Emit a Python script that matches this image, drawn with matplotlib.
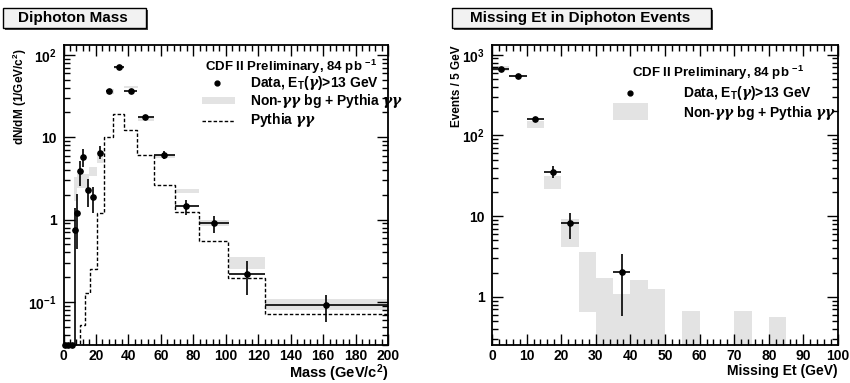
import numpy as np
import matplotlib.pyplot as plt
from matplotlib.patches import Rectangle
from matplotlib.ticker import FixedLocator, MultipleLocator, NullFormatter

plt.rcParams['font.family'] = ['Liberation Sans', 'DejaVu Sans']
plt.rcParams['font.weight'] = 'bold'
plt.rcParams['axes.labelweight'] = 'bold'
plt.rcParams['mathtext.fontset'] = 'custom'
plt.rcParams['mathtext.rm'] = 'Liberation Sans:bold'
plt.rcParams['mathtext.bf'] = 'Liberation Sans:bold'
plt.rcParams['mathtext.it'] = 'DejaVu Serif:italic'
plt.rcParams['mathtext.default'] = 'rm'

BAND = '#e3e3e3'

# ---- diphoton mass ----
mass_x = [6.8, 8.2, 10.3, 12.3, 15.2, 18.3, 22.6, 27.8, 34.0, 41.4, 50.4, 61.7, 75.7, 92.6, 112.8, 162.0]
mass_xlo = [6.5, 7.5, 9.5, 11.5, 14.0, 17.3, 21.5, 25.9, 30.9, 37.0, 45.7, 55.6, 68.5, 83.3, 101.7, 124.0]
mass_xhi = [7.1, 8.9, 11.1, 13.1, 16.4, 19.3, 23.7, 30.0, 37.0, 45.5, 56.0, 68.5, 83.3, 101.7, 124.0, 200.0]
mass_y = [0.74, 1.19, 3.93, 5.7, 2.31, 1.86, 6.5, 36.6, 71.6, 36.6, 17.4, 6.1, 1.45, 0.91, 0.217, 0.091]
mass_ylo = [0.01, 0.44, 2.58, 4.3, 1.41, 1.19, 5.5, 34.5, 68.0, 34.5, 16.4, 5.5, 1.14, 0.69, 0.122, 0.057]
mass_yhi = [1.4, 2.07, 5.2, 7.2, 3.1, 2.5, 7.9, 38.8, 75.0, 38.8, 18.4, 6.8, 1.73, 1.12, 0.318, 0.123]

# empty bins below the first filled bin
mass_zero_x = [1.0, 3.0, 5.0]
mass_zero_w = [1.0, 1.0, 1.5]

# non-gamma-gamma background + Pythia band (bin edges, low, high)
band_m_edges = [6.5, 8.5, 16.0, 20.5, 24.5, 25.9, 30.9, 37.0, 45.7, 55.6, 68.5, 83.3, 101.7, 124.0, 200.0]
band_m_lo = [1.7, 2.44, 3.4, 4.9, np.nan, 34.0, 68.0, 39.5, 15.7, 5.6, 2.08, 0.83, 0.25, 0.079]
band_m_hi = [3.3, 3.6, 4.4, 6.1, np.nan, 39.0, 73.0, 42.0, 17.4, 6.1, 2.36, 0.99, 0.35, 0.11]

# Pythia gamma-gamma alone
pythia_edges = [8.0, 10.0, 13.5, 16.5, 20.5, 25.0, 30.5, 37.0, 45.5, 55.5, 68.5, 83.5, 101.5, 124.0, 200.0]
pythia_vals = [0.02, 0.052, 0.13, 0.25, 1.2, 10.1, 19.0, 12.3, 6.1, 2.65, 1.22, 0.545, 0.196, 0.072]

# ---- missing Et ----
met_x = [2.5, 7.5, 12.5, 17.5, 22.5, 37.5]
met_xerr = [2.5, 2.5, 2.5, 2.5, 2.5, 2.5]
met_y = [660, 546, 158, 35.4, 8.2, 2.03]
met_ylo = [630, 525, 148, 29.7, 5.2, 0.585]
met_yhi = [690, 568, 168, 41.6, 10.9, 3.42]

band_e_edges = [0, 5, 10, 15, 20, 25, 30, 35, 40, 45, 50, 55, 60, 65, 70, 75, 80, 85]
band_e_lo = [620, 535, 124, 21.7, 4.1, 0.64, 0.1, 0.1, 0.1, 0.1, np.nan, 0.1, np.nan, np.nan, 0.1, np.nan, 0.1]
band_e_hi = [720, 555, 150, 31.8, 9.3, 3.55, 1.72, 1.09, 1.63, 1.26, np.nan, 0.67, np.nan, np.nan, 0.67, np.nan, 0.57]

GG = '$\\mathit{\\gamma\\gamma}$'
DATA_LABEL = 'Data, E$_{T}$($\\mathit{\\gamma}$)>13 GeV'
BG_LABEL = 'Non-' + GG + ' bg + Pythia ' + GG
HEADER = 'CDF II Preliminary, 84 pb $^{-1}$'


def draw_band(ax, edges, lo, hi):
    for i in range(len(lo)):
        if np.isnan(lo[i]):
            continue
        ax.fill_between([edges[i], edges[i + 1]], lo[i], hi[i], color=BAND, lw=0, zorder=1)


def draw_data(ax, x, xl, xh, y, yl, yh):
    x = np.array(x); y = np.array(y)
    xerr = [x - np.array(xl), np.array(xh) - x]
    yerr = [y - np.array(yl), np.array(yh) - y]
    ax.errorbar(x, y, xerr=xerr, yerr=yerr, fmt='o', color='black', ms=3.8,
                elinewidth=1.2, capsize=0, zorder=5)


def style_axes(ax, xmax, xmajor, xminor, ymin, ymax, yticks, ylabels):
    ax.set_yscale('log')
    ax.set_xlim(0, xmax)
    ax.set_ylim(ymin, ymax)
    ax.xaxis.set_major_locator(MultipleLocator(xmajor))
    ax.xaxis.set_minor_locator(MultipleLocator(xminor))
    ax.yaxis.set_major_locator(FixedLocator(yticks))
    ax.set_yticklabels(ylabels)
    minors = [m * 10.0 ** e for e in range(-3, 4) for m in range(2, 10)]
    ax.yaxis.set_minor_locator(FixedLocator(minors))
    ax.yaxis.set_minor_formatter(NullFormatter())
    ax.tick_params(which='both', direction='in', top=True, right=True, labelsize=10, width=1)
    ax.tick_params(which='major', length=8)
    ax.tick_params(which='minor', length=4)
    ax.tick_params(axis='x', pad=3)
    ax.tick_params(axis='y', pad=5)
    for s in ax.spines.values():
        s.set_linewidth(1.3)


def title_box(fig, x0, y0, w, h, text, inset):
    W, H = 850.0, 383.0
    fig.patches.append(Rectangle(((x0 + 2) / W, 1 - (y0 + h + 2) / H), w / W, h / H,
                                 transform=fig.transFigure, facecolor='#444444', edgecolor='none'))
    fig.patches.append(Rectangle((x0 / W, 1 - (y0 + h) / H), w / W, h / H,
                                 transform=fig.transFigure, facecolor='#f2f2f2',
                                 edgecolor='black', linewidth=1.0))
    fig.text((x0 + inset) / W, 1 - (y0 + h / 2) / H, text, fontsize=11, va='center', ha='left')


fig = plt.figure(figsize=(8.5, 3.83), dpi=100)

# left panel: diphoton mass
ax1 = fig.add_axes([63.5 / 850, 38 / 383, 324.5 / 850, 300 / 383])
draw_band(ax1, band_m_edges, band_m_lo, band_m_hi)
ax1.stairs(pythia_vals, pythia_edges, color='black', lw=1.0, ls=(0, (2.5, 1.5)), zorder=3)
draw_data(ax1, mass_x, mass_xlo, mass_xhi, mass_y, mass_ylo, mass_yhi)
style_axes(ax1, 200, 20, 4, 0.03, 132, [0.1, 1, 10, 100],
           ['$10^{-1}$', '1', '10', '$10^{2}$'])
ax1.errorbar(mass_zero_x, [0.03] * 3, xerr=mass_zero_w, fmt='o', color='black', ms=3.8,
             elinewidth=2.5, capsize=0, clip_on=False, zorder=6)
ax1.set_xlabel('Mass (GeV/c$^{2}$)', loc='right', fontsize=10.5)
ax1.xaxis.label.set_va('center')
ax1.xaxis.set_label_coords(1.0, -0.095)
ax1.set_ylabel('dN/dM (1/GeV/c$^{2}$)', loc='top', fontsize=8.5)
ax1.yaxis.label.set_va('center')
ax1.yaxis.set_label_coords(-0.134, 0.99)

ax1.text(0.436, 0.928, HEADER, transform=ax1.transAxes, fontsize=9.5, va='center', ha='left')
ax1.plot([0.472], [0.872], 'o', color='black', ms=3.5, transform=ax1.transAxes)
ax1.text(0.575, 0.872, DATA_LABEL, transform=ax1.transAxes, fontsize=10, va='center', ha='left')
ax1.add_patch(Rectangle((0.427, 0.803), 0.102, 0.025, transform=ax1.transAxes,
                        facecolor=BAND, edgecolor='none'))
ax1.text(0.575, 0.815, BG_LABEL, transform=ax1.transAxes, fontsize=10, va='center', ha='left')
ax1.plot([0.427, 0.529], [0.748, 0.748], color='black', lw=1.0, ls=(0, (2.5, 1.5)),
         transform=ax1.transAxes)
ax1.text(0.575, 0.75, 'Pythia ' + GG, transform=ax1.transAxes, fontsize=10,
         va='center', ha='left')

# right panel: missing Et
ax2 = fig.add_axes([492 / 850, 38 / 383, 346 / 850, 300 / 383])
draw_band(ax2, band_e_edges, band_e_lo, band_e_hi)
mx = np.array(met_x)
draw_data(ax2, met_x, mx - np.array(met_xerr), mx + np.array(met_xerr),
          met_y, met_ylo, met_yhi)
style_axes(ax2, 100, 10, 2, 0.253, 1320, [1, 10, 100, 1000],
           ['1', '10', '$10^{2}$', '$10^{3}$'])
ax2.set_xlabel('Missing Et (GeV)', loc='right', fontsize=10)
ax2.xaxis.label.set_va('center')
ax2.xaxis.set_label_coords(1.0, -0.088)
ax2.set_ylabel('Events / 5 GeV', loc='top', fontsize=8.5)
ax2.yaxis.label.set_va('center')
ax2.yaxis.set_label_coords(-0.101, 1.0)

ax2.text(0.404, 0.908, HEADER, transform=ax2.transAxes, fontsize=9.5, va='center', ha='left')
ax2.plot([0.399], [0.839], 'o', color='black', ms=3.5, transform=ax2.transAxes)
ax2.text(0.551, 0.839, DATA_LABEL, transform=ax2.transAxes, fontsize=10, va='center', ha='left')
ax2.add_patch(Rectangle((0.349, 0.75), 0.101, 0.056, transform=ax2.transAxes,
                        facecolor=BAND, edgecolor='none'))
ax2.text(0.551, 0.772, BG_LABEL, transform=ax2.transAxes, fontsize=10, va='center', ha='left')

title_box(fig, 3, 8, 143, 20, 'Diphoton Mass', 15)
title_box(fig, 452, 8, 259, 20, 'Missing Et in Diphoton Events', 18)

fig.savefig('out.png', dpi=100)
